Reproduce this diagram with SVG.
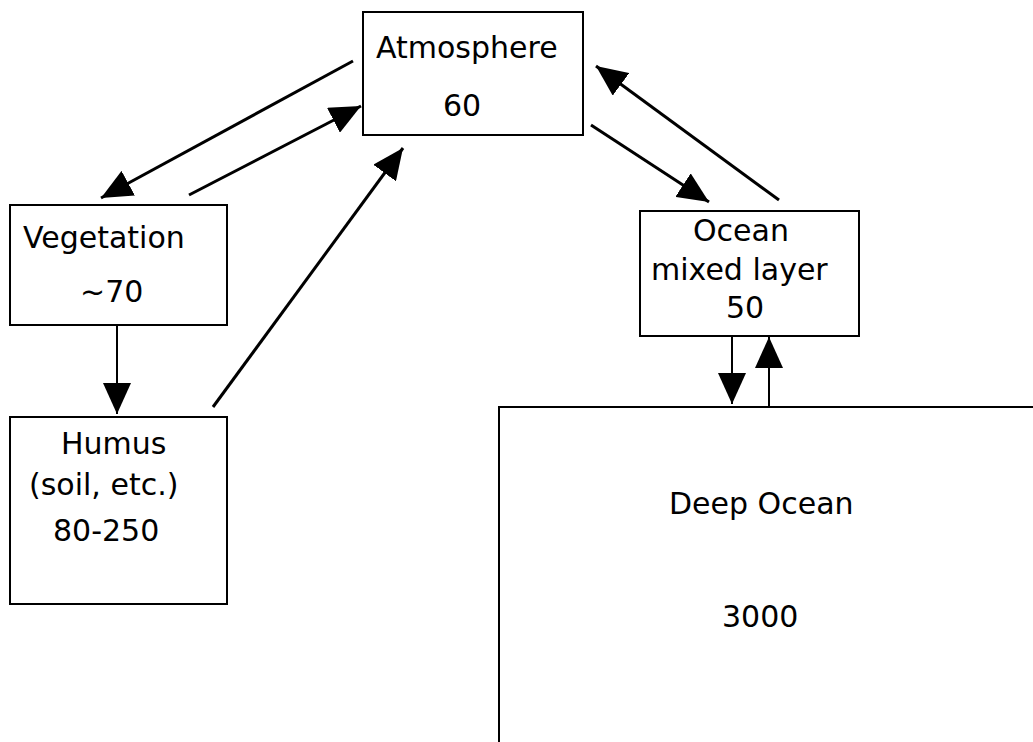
<svg xmlns="http://www.w3.org/2000/svg" width="1033" height="742" viewBox="0 0 1033 742">
<style>
.box{fill:#fff;stroke:#000;stroke-width:2}
.lbl{font-family:"DejaVu Sans",Verdana,sans-serif;font-size:30px;fill:#000}
.con{stroke:#000;stroke-width:3;fill:none;marker-end:url(#ah)}
.conv{stroke:#000;stroke-width:2;fill:none;marker-end:url(#ah)}
</style>
<defs>
<marker id="ah" markerUnits="userSpaceOnUse" markerWidth="32" markerHeight="28" refX="31" refY="14" orient="auto">
<path d="M0,0 L31,14 L0,28 z" fill="#000"/>
</marker>
</defs>
<rect width="1033" height="742" fill="#fff"/>
<g id="atmosphere">
<rect class="box" x="363" y="12" width="220" height="123"/>
<text class="lbl" x="376" y="58">Atmosphere</text>
<text class="lbl" x="443" y="116">60</text>
</g>
<g id="vegetation">
<rect class="box" x="10" y="205" width="217" height="120"/>
<text class="lbl" x="23" y="248">Vegetation</text>
<text class="lbl" x="80" y="302">~70</text>
</g>
<g id="humus">
<rect class="box" x="10" y="417" width="217" height="187"/>
<text class="lbl" x="61" y="454">Humus</text>
<text class="lbl" x="29" y="495">(soil, etc.)</text>
<text class="lbl" x="53" y="541">80-250</text>
</g>
<g id="ocean-mixed">
<rect class="box" x="640" y="211" width="219" height="125"/>
<text class="lbl" x="693" y="241">Ocean</text>
<text class="lbl" x="651" y="280">mixed layer</text>
<text class="lbl" x="726" y="318">50</text>
</g>
<g id="deep-ocean">
<path d="M499,745 L499,407 L1036,407" fill="none" stroke="#000" stroke-width="2"/>
<text class="lbl" x="669" y="514">Deep Ocean</text>
<text class="lbl" x="722" y="627">3000</text>
</g>
<g id="connectors">
<line class="con" x1="353" y1="61" x2="101" y2="198"/>
<line class="con" x1="189" y1="195" x2="361" y2="106"/>
<line class="con" x1="213" y1="407" x2="403" y2="148"/>
<line class="conv" x1="117" y1="326" x2="117" y2="414"/>
<line class="con" x1="591" y1="125" x2="709" y2="202"/>
<line class="con" x1="779" y1="200" x2="596" y2="66"/>
<line class="conv" x1="732" y1="337" x2="732" y2="404"/>
<line class="conv" x1="769" y1="406" x2="769" y2="337"/>
</g>
</svg>
